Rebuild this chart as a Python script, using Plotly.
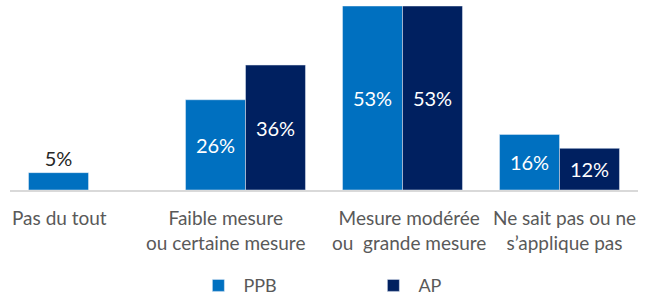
import plotly.graph_objects as go

categories = ["Pas du tout", "Faible mesure<br>ou certaine mesure",
              "Mesure modérée<br>ou\u00a0 grande mesure", "Ne sait pas ou ne<br>s’applique pas"]
ppb = [5, 26, 53, 16]
ap = [None, 36, 53, 12]
series_names = ["PPB", "AP"]
label_shift = [-29, -20, 6, 5]

FONT = "Lato"
GRAY = "#595959"
xcats = [0, 1, 2, 3]

def labels(vals):
    return [f"{v}%" if v is not None else "" for v in vals]

fig = go.Figure()
fig.add_trace(go.Bar(
    x=xcats, y=ppb, name=series_names[0], marker_color="#0070C0",
    text=labels(ppb), textposition=["outside", "inside", "inside", "inside"],
    insidetextanchor="middle", constraintext="none", cliponaxis=False,
    textfont=dict(family=FONT, size=20, color=["#262626", "white", "white", "white"]),
    outsidetextfont=dict(family=FONT, size=20, color="#262626"),
))
fig.add_trace(go.Bar(
    x=xcats, y=ap, name=series_names[1], marker_color="#002060",
    text=labels(ap), textposition="inside",
    insidetextanchor="middle", constraintext="none", cliponaxis=False,
    textfont=dict(family=FONT, size=20, color="white"),
))

for i, c in enumerate(categories):
    fig.add_annotation(x=xcats[i], y=0, xref="x", yref="paper", yanchor="top",
                       yshift=-14, xshift=label_shift[i], text=c, showarrow=False,
                       font=dict(family=FONT, size=19, color=GRAY), align="center")

fig.update_layout(
    width=645, height=297, barmode="group", bargap=0.236, bargroupgap=0,
    margin=dict(l=10, r=7, t=6, b=107, autoexpand=False),
    plot_bgcolor="white", paper_bgcolor="white",
    font=dict(family=FONT, size=19, color=GRAY),
    xaxis=dict(range=[-0.5, 3.5], showticklabels=False, showgrid=False, zeroline=False,
               showline=True, linecolor="#D9D9D9", linewidth=2, ticks=""),
    yaxis=dict(range=[0, 53], visible=False),
    legend=dict(orientation="h", x=0.292, xanchor="left", y=-0.52, yanchor="middle",
                entrywidth=120, entrywidthmode="pixels", itemwidth=40,
                font=dict(family=FONT, size=18, color=GRAY)),
    showlegend=True,
)
fig.write_html("out.html", config={"displayModeBar": False},
               post_script="document.body.style.margin='0';")
